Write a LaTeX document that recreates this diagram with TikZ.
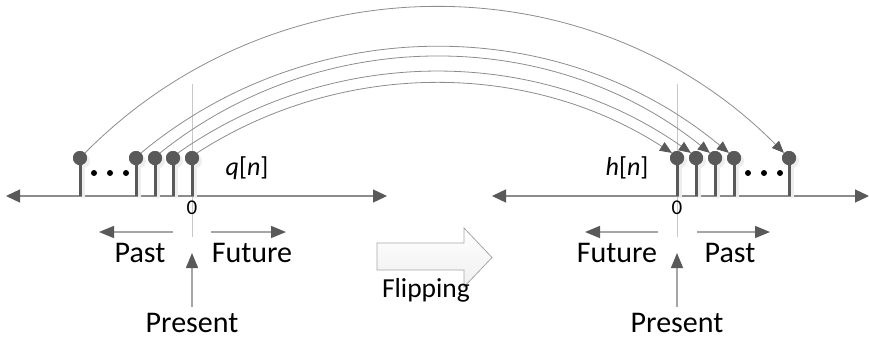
\documentclass[tikz,border=0pt]{standalone}
\usepackage{fontspec}
\setmainfont{Carlito}
\usetikzlibrary{arrows.meta}
\definecolor{dk}{HTML}{595959}
\definecolor{md}{HTML}{8C8C8C}
\definecolor{lt}{HTML}{A6A6A6}
\definecolor{gl}{HTML}{C8C8C8}
\definecolor{sh}{HTML}{EEEEEE}
\begin{document}
\begin{tikzpicture}[x=1pt,y=-1pt,
  axarrow/.style={md,line width=1.3pt,{Triangle[length=14pt,width=13pt,color=dk]}-{Triangle[length=14pt,width=13pt,color=dk]}},
  stem/.style={dk,line width=3pt},
  stemshadow/.style={sh,line width=3pt},
  sample/.style={circle,fill=dk,minimum size=14pt,inner sep=0pt},
  sampleshadow/.style={circle,fill=sh,minimum size=14pt,inner sep=0pt},
  ellip/.style={circle,fill=black,minimum size=6pt,inner sep=0pt},
  arcline/.style={md,line width=0.8pt,-{Triangle[length=12pt,width=10pt,color=dk]}},
  guide/.style={gl,line width=0.8pt},
  dirarrow/.style={lt,line width=1.5pt,-{Triangle[length=15pt,width=12pt,color=dk]}},
  lbl/.style={font=\fontsize{30}{34}\selectfont,inner sep=0pt,anchor=base},
  fliplbl/.style={font=\fontsize{27.5}{31}\selectfont,inner sep=0pt,anchor=base},
  sig/.style={font=\fontsize{26}{30}\selectfont\itshape,inner sep=0pt,anchor=base},
  zerolbl/.style={font=\fontsize{21}{24}\selectfont,inner sep=0pt,anchor=base},
  blockarrow/.style={draw=lt,line width=0.8pt,top color=white,bottom color=black!6}]
\useasboundingbox (0,0) rectangle (869,338);

% guide lines through zero
\coordinate (gl1) at (192,84); \coordinate (gl2) at (192,237);
\coordinate (gr1) at (677,84); \coordinate (gr2) at (677,237);
\draw[guide] (gl1) -- (gl2);
\draw[guide] (gr1) -- (gr2);

% axes
\coordinate (la) at (6,196); \coordinate (lb) at (387,196);
\coordinate (ra) at (492,196); \coordinate (rb) at (869,196);
\draw[axarrow] (la) -- (lb);
\draw[axarrow] (ra) -- (rb);

% shadows
\foreach \x in {80,136,155,173,192,677,696,715,734,789}{
  \draw[stemshadow] (\x+3.5,165) -- (\x+3.5,198);
  \node[sampleshadow] at (\x+3,161) {};
}

% samples left q[n]
\node[sample] (l1) at (80,158) {};
\node[sample] (l2) at (136,158) {};
\node[sample] (l3) at (155,158) {};
\node[sample] (l4) at (173,158) {};
\node[sample] (l5) at (192,158) {};
% samples right h[n]
\node[sample] (r1) at (677,158) {};
\node[sample] (r2) at (696,158) {};
\node[sample] (r3) at (715,158) {};
\node[sample] (r4) at (734,158) {};
\node[sample] (r5) at (789,158) {};

\foreach \n in {l1,l2,l3,l4,l5}{\draw[stem] (\n.center) -- (\n |- la);}
\foreach \n in {r1,r2,r3,r4,r5}{\draw[stem] (\n.center) -- (\n |- ra);}
\foreach \n in {l1,l2,l3,l4,l5,r1,r2,r3,r4,r5}{\node[sample] at (\n) {};}

% ellipsis dots
\node[ellip] (d1) at (94,173) {};
\node[ellip] (d2) at (110,173) {};
\node[ellip] (d3) at (126,173) {};
\node[ellip] (d4) at (748,173) {};
\node[ellip] (d5) at (764,173) {};
\node[ellip] (d6) at (780,173) {};

% flipping arcs
\draw[arcline] (l1.north east) .. controls +(192,-194) and +(-192,-194) .. (r5.north west);
\draw[arcline] (l2.north east) .. controls +(170,-141) and +(-170,-141) .. (r4.north west);
\draw[arcline] (l3.north east) .. controls +(160,-128) and +(-160,-128) .. (r3.north west);
\draw[arcline] (l4.north east) .. controls +(154,-108) and +(-154,-108) .. (r2.north west);
\draw[arcline] (l5.north east) .. controls +(144,-93) and +(-144,-93) .. (r1.north west);

% labels
\node[sig] (qn) at (247,175) {q\/\upshape[\itshape n\/\upshape]};
\node[sig] (hn) at (627,175) {h\/\upshape[\itshape n\/\upshape]};
\node[zerolbl] (z1) at (192,214) {0};
\node[zerolbl] (z2) at (677,214) {0};

% direction arrows left
\coordinate (pl0) at (173,232); \coordinate (pl1) at (99,232);
\coordinate (fl0) at (211,232); \coordinate (fl1) at (286,232);
\draw[dirarrow] (pl0) -- (pl1);
\draw[dirarrow] (fl0) -- (fl1);
\node[lbl] (pastl) at (140,262) {Past};
\node[lbl] (futl) at (252,262) {Future};
\coordinate (prl0) at (192,307); \coordinate (prl1) at (192,253);
\draw[dirarrow] (prl0) -- (prl1);
\node[lbl] (presl) at (192,332.5) {Present};

% direction arrows right
\coordinate (fr0) at (658,232); \coordinate (fr1) at (585,232);
\coordinate (pr0) at (697,232); \coordinate (pr1) at (770,232);
\draw[dirarrow] (fr0) -- (fr1);
\draw[dirarrow] (pr0) -- (pr1);
\node[lbl] (futr) at (617,262) {Future};
\node[lbl] (pastr) at (730,262) {Past};
\coordinate (prr0) at (677,307); \coordinate (prr1) at (677,253);
\draw[dirarrow] (prr0) -- (prr1);
\node[lbl] (presr) at (677,332.5) {Present};

% flipping block arrow
\draw[blockarrow] (377,243) -- (464,243) -- (464,228) -- (492,257.5) -- (464,287) -- (464,270) -- (377,270) -- cycle;
\node[fliplbl] (flip) at (426,297) {Flipping};
\end{tikzpicture}
\end{document}
